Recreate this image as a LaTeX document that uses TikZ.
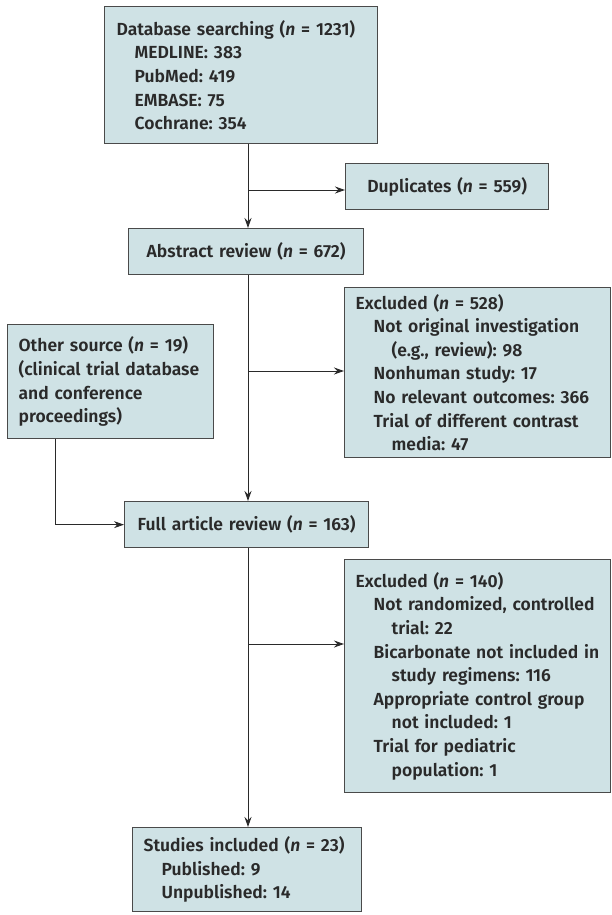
\documentclass[tikz,border=0pt]{standalone}
\usepackage{fontspec}
\setmainfont{Fira Sans}[UprightFont={* SemiBold},ItalicFont={* SemiBold Italic}]
\usetikzlibrary{arrows.meta,positioning,calc}
\definecolor{boxfill}{HTML}{CFE2E5}
\definecolor{boxline}{HTML}{4A4A4A}
\definecolor{txt}{HTML}{2A2A2A}
\newcommand{\ia}[1]{\mbox{\hspace*{18pt}#1}}
\newcommand{\ib}[1]{\mbox{\hspace*{36pt}#1}}
\frenchspacing
\tikzset{
  box/.style={draw=boxline, fill=boxfill, line width=1.3pt, anchor=north west,
    inner xsep=12pt, inner ysep=0pt, text=txt,
    font=\fontsize{17.5}{23.6}\selectfont},
  lbox/.style={box, align=left},
  cbox/.style={box, align=center},
  arr/.style={draw=txt, line width=1pt, -{Stealth[length=10pt,width=7pt]}}
}
\begin{document}
\begin{tikzpicture}[x=1pt,y=-1pt]
\useasboundingbox (0,0) rectangle (612,915);
\coordinate (m) at (248,0);
\coordinate (o) at (55,0);

\node[lbox, minimum width=273pt, minimum height=137pt, text width=249pt] (db) at (104,6)
 {Database searching (\textit{n} = 1231)\\
  \ia{MEDLINE: 383}\\
  \ia{PubMed: 419}\\
  \ia{EMBASE: 75}\\
  \ia{Cochrane: 354}};

\node[cbox, minimum width=203pt, minimum height=46pt, text width=179pt] (dup) at (345,163)
 {Duplicates (\textit{n} = 559)};

\node[cbox, minimum width=235pt, minimum height=46pt, text width=211pt] (abs) at (128,228)
 {Abstract review (\textit{n} = 672)};

\node[lbox, minimum width=266pt, minimum height=170pt, text width=244pt, inner xsep=11pt] (ex1) at (344,287)
 {Excluded (\textit{n} = 528)\\
  \ia{Not original investigation}\\
  \ib{(e.g., review): 98}\\
  \ia{Nonhuman study: 17}\\
  \ia{No relevant outcomes: 366}\\
  \ia{Trial of different contrast}\\
  \ib{media: 47}};

\node[lbox, minimum width=206pt, minimum height=114pt, text width=184pt, inner xsep=11pt] (oth) at (7,324)
 {Other source (\textit{n} = 19)\\
  (clinical trial database\\
  and conference\\
  proceedings)};

\node[cbox, minimum width=244pt, minimum height=46pt, text width=220pt] (full) at (124,501)
 {Full article review (\textit{n} = 163)};

\node[lbox, minimum width=266pt, minimum height=233pt, text width=244pt, inner xsep=11pt] (ex2) at (344,559)
 {Excluded (\textit{n} = 140)\\
  \ia{Not randomized, controlled}\\
  \ib{trial: 22}\\
  \ia{Bicarbonate not included in}\\
  \ib{study regimens: 116}\\
  \ia{Appropriate control group}\\
  \ib{not included: 1}\\
  \ia{Trial for pediatric}\\
  \ib{population: 1}};

\node[lbox, minimum width=229pt, minimum height=84pt, text width=207pt, inner xsep=11pt] (inc) at (132,827)
 {Studies included (\textit{n} = 23)\\
  \ia{Published: 9}\\
  \ia{Unpublished: 14}};

\coordinate (j1) at (248,190);
\coordinate (j2) at (248,371);
\coordinate (j3) at (248,644);

\draw[arr] (db.south -| m) -- (abs.north -| m);
\draw[arr] (j1) -- (j1 -| dup.west);
\draw[arr] (abs.south -| m) -- (full.north -| m);
\draw[arr] (j2) -- (j2 -| ex1.west);
\draw[arr] (oth.south -| o) |- (full.west);
\draw[arr] (full.south -| m) -- (inc.north -| m);
\draw[arr] (j3) -- (j3 -| ex2.west);
\end{tikzpicture}
\end{document}
